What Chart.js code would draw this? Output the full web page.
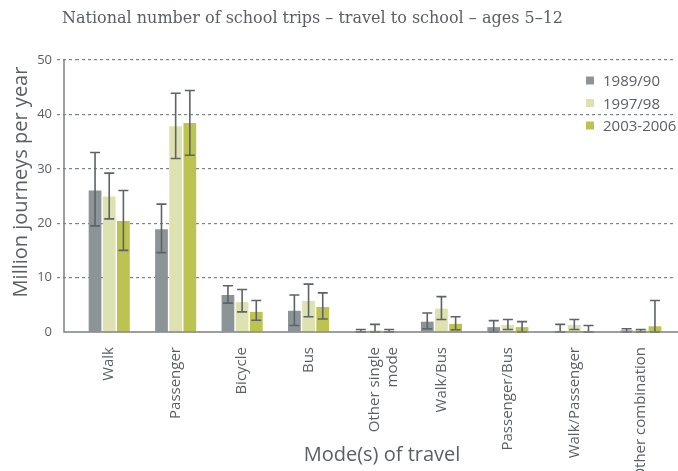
<!DOCTYPE html>
<html>
<head>
<meta charset="utf-8">
<script src="https://cdn.jsdelivr.net/npm/chart.js@4"></script>
<style>
  html, body { margin: 0; padding: 0; background: #fff; }
  #wrap { width: 678px; height: 471px; position: relative; }
</style>
</head>
<body>
<div id="wrap"><canvas id="c" width="678" height="471"></canvas></div>
<script>
// dados
const categories = ["Walk", "Passenger", "Bicycle", "Bus", ["Other single", "mode"], "Walk/Bus", "Passenger/Bus", "Walk/Passenger", "Other combination"];
const seriesNames = ["1989/90", "1997/98", "2003-2006"];
const v1989 = [26.0, 18.9, 6.8, 3.9, 0.2, 1.9, 0.9, 0.2, 0.3];
const lo1989 = [19.5, 14.6, 5.3, 1.2, 0, 0.6, 0, 0, 0];
const hi1989 = [33.0, 23.5, 8.5, 6.8, 0.45, 3.5, 2.1, 1.4, 0.6];
const v1997 = [24.9, 37.8, 5.5, 5.7, 0.3, 4.3, 1.3, 1.3, 0.4];
const lo1997 = [20.8, 31.9, 3.7, 2.8, 0, 2.3, 0.45, 0.45, 0];
const hi1997 = [29.2, 43.9, 7.8, 8.8, 1.4, 6.5, 2.3, 2.3, 0.45];
const v2003 = [20.4, 38.4, 3.7, 4.6, 0.2, 1.5, 0.9, 0.2, 1.05];
const lo2003 = [15.0, 32.5, 2.15, 2.4, 0, 0.4, 0, 0, 0];
const hi2003 = [26.0, 44.4, 5.8, 7.2, 0.45, 2.8, 1.9, 1.2, 5.8];
const yTicks = [0, 10, 20, 30, 40, 50];

const COLORS = ["#8d9497", "#dee2b1", "#bcc351"];
const TEXT = "#5a5f63";
const AXIS = "#7b8084";
const FONT = "'Open Sans', sans-serif";

// barras de erro desenhadas a partir das escalas do chart
const errorBars = {
  id: "errorBars",
  afterDatasetsDraw(chart) {
    const ctx = chart.ctx;
    const y = chart.scales.y;
    ctx.save();
    ctx.strokeStyle = "#5d6367";
    ctx.lineWidth = 1.6;
    chart.data.datasets.forEach((ds, di) => {
      const meta = chart.getDatasetMeta(di);
      meta.data.forEach((bar, i) => {
        const top = y.getPixelForValue(ds.hi[i]);
        const bot = y.getPixelForValue(ds.lo[i]);
        ctx.beginPath();
        ctx.moveTo(bar.x, top); ctx.lineTo(bar.x, bot);
        ctx.moveTo(bar.x - 5, top); ctx.lineTo(bar.x + 5, top);
        ctx.moveTo(bar.x - 5, bot); ctx.lineTo(bar.x + 5, bot);
        ctx.stroke();
      });
    });
    ctx.restore();
  },
};

// eixos em L, títulos e legenda
const decor = {
  id: "decor",
  afterDraw(chart) {
    const ctx = chart.ctx;
    const { left, bottom, top } = chart.chartArea;
    const ax = left - 12;
    ctx.save();
    ctx.strokeStyle = AXIS;
    ctx.lineWidth = 1.5;
    ctx.beginPath();
    ctx.moveTo(ax, top); ctx.lineTo(ax, bottom); ctx.lineTo(chart.width, bottom);
    ctx.stroke();

    ctx.fillStyle = TEXT;
    ctx.font = "16px 'DejaVu Serif', serif";
    ctx.textBaseline = "middle";
    ctx.textAlign = "left";
    ctx.fillText("National number of school trips – travel to school – ages 5–12", 62, 19);

    ctx.font = "20px " + FONT;
    ctx.textAlign = "center";
    ctx.fillText("Mode(s) of travel", 382, 455);

    ctx.translate(21, 182);
    ctx.rotate(-Math.PI / 2);
    ctx.fillText("Million journeys per year", 0, 0);
    ctx.setTransform(1, 0, 0, 1, 0, 0);

    ctx.font = "15px " + FONT;
    ctx.textAlign = "left";
    chart.data.datasets.forEach((ds, i) => {
      const ly = 81 + i * 22.5;
      ctx.fillStyle = ds.backgroundColor;
      ctx.fillRect(586, ly - 4.5, 8, 8);
      ctx.fillStyle = TEXT;
      ctx.fillText(ds.label, 603, ly + 1);
    });
    ctx.restore();
  },
};

new Chart(document.getElementById("c"), {
  type: "bar",
  data: {
    labels: categories,
    datasets: [
      { label: seriesNames[0], data: v1989, lo: lo1989, hi: hi1989, backgroundColor: COLORS[0] },
      { label: seriesNames[1], data: v1997, lo: lo1997, hi: hi1997, backgroundColor: COLORS[1] },
      { label: seriesNames[2], data: v2003, lo: lo2003, hi: hi2003, backgroundColor: COLORS[2] },
    ],
  },
  plugins: [errorBars, decor],
  options: {
    responsive: false,
    animation: false,
    categoryPercentage: 0.64,
    barPercentage: 0.9,
    layout: { padding: { top: 60, right: 4, left: 0, bottom: 0 } },
    plugins: {
      legend: { display: false },
      title: { display: false },
      tooltip: { enabled: false },
    },
    scales: {
      x: {
        border: { display: false },
        grid: { display: false },
        afterFit: (s) => { s.height = 139; },
        ticks: {
          minRotation: 90,
          maxRotation: 90,
          autoSkip: false,
          padding: 7,
          color: TEXT,
          font: { family: FONT, size: 15 },
        },
      },
      y: {
        min: 0,
        max: 50,
        afterFit: (s) => { s.width = 76; },
        afterBuildTicks: (s) => { s.ticks = yTicks.map((v) => ({ value: v })); },
        grid: {
          color: (c) => (c.tick && c.tick.value === 0 ? "transparent" : "#7d8286"),
          lineWidth: 1.2,
          tickLength: 19,
          tickBorderDash: [3, 3],
        },
        border: { display: false, dash: [3, 3] },
        ticks: {
          padding: 5,
          color: TEXT,
          font: { family: FONT, size: 13 },
        },
      },
    },
  },
});
</script>
</body>
</html>
